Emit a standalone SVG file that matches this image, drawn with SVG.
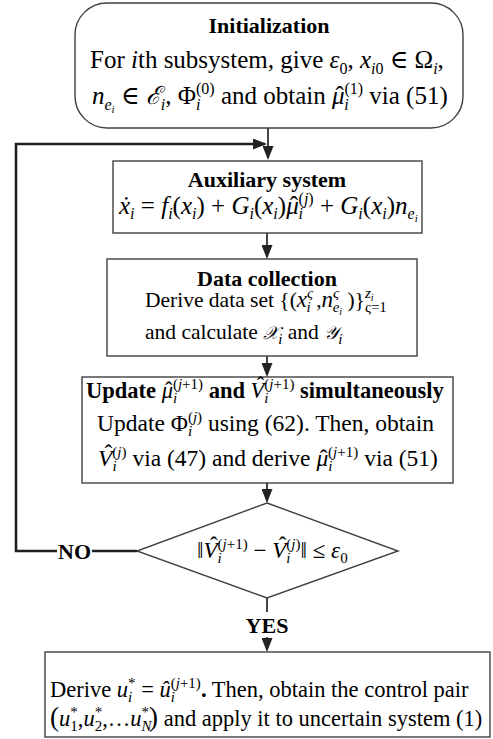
<svg xmlns="http://www.w3.org/2000/svg" width="493" height="739" viewBox="0 0 493 739">
<defs>
<style>
text{font-family:"Liberation Serif","Times New Roman","DejaVu Serif",serif;fill:#000}
.b{font-weight:bold}
.it{font-style:italic}
.box{fill:#fff;stroke:#404040;stroke-width:1.4}
.ln{fill:none;stroke:#303030;stroke-width:1.8}
.loop{fill:none;stroke:#202020;stroke-width:2.6}
</style>
<marker id="ah" markerWidth="14" markerHeight="11" refX="12" refY="5.5" orient="auto" markerUnits="userSpaceOnUse"><path d="M0,0 L14,5.5 L0,11 z" fill="#222"/></marker>
</defs>
<rect width="493" height="739" fill="#fff"/>
<g id="n-init">
<rect class="box" x="75" y="3" width="388" height="125" rx="32"/>
<text class="b" x="269" y="33" font-size="22" text-anchor="middle">Initialization</text>
<text x="90" y="68" font-size="25">For <tspan class="it">i</tspan>th subsystem, give <tspan class="it">ε</tspan><tspan font-size="16" dy="6">0</tspan><tspan dy="-6">, </tspan><tspan class="it">x</tspan><tspan class="it" font-size="16" dy="6">i</tspan><tspan font-size="16">0</tspan><tspan dy="-6"> ∈ Ω</tspan><tspan class="it" font-size="16" dy="6">i</tspan><tspan dy="-6">,</tspan></text>
<text x="92" y="104" font-size="25"><tspan class="it">n</tspan><tspan class="it" font-size="16" dy="6">e</tspan><tspan class="it" font-size="11" dy="3">i</tspan><tspan dy="-9"> ∈ </tspan><tspan class="it">ℰ</tspan><tspan class="it" font-size="16" dy="6">i</tspan><tspan dy="-6">, Φ</tspan><tspan class="it" font-size="16" dy="6">i</tspan><tspan font-size="16" dx="-4.4" dy="-16">(0)</tspan><tspan dy="10"> and obtain </tspan><tspan class="it">μ</tspan><tspan dx="-9">ˆ</tspan><tspan class="it" font-size="16" dx="0.5" dy="6">i</tspan><tspan font-size="16" dx="-4.4" dy="-16">(1)</tspan><tspan dy="10"> via (51)</tspan></text>
</g>
<g id="n-aux">
<rect class="box" x="113" y="161" width="309" height="72"/>
<text class="b" x="267" y="187" font-size="22" text-anchor="middle">Auxiliary system</text>
<text x="119" y="214" font-size="25"><tspan class="it">ẋ</tspan><tspan class="it" font-size="16" dy="5">i</tspan><tspan dy="-5"> = </tspan><tspan class="it">f</tspan><tspan class="it" font-size="16" dy="5">i</tspan><tspan dy="-5">(</tspan><tspan class="it">x</tspan><tspan class="it" font-size="16" dy="5">i</tspan><tspan dy="-5">) + </tspan><tspan class="it">G</tspan><tspan class="it" font-size="16" dy="5">i</tspan><tspan dy="-5">(</tspan><tspan class="it">x</tspan><tspan class="it" font-size="16" dy="5">i</tspan><tspan dy="-5">)</tspan><tspan class="it">μ</tspan><tspan dx="-9">ˆ</tspan><tspan class="it" font-size="16" dx="0.5" dy="5">i</tspan><tspan font-size="16" dx="-4.4" dy="-15">(<tspan class="it">j</tspan>)</tspan><tspan dy="10"> + </tspan><tspan class="it">G</tspan><tspan class="it" font-size="16" dy="5">i</tspan><tspan dy="-5">(</tspan><tspan class="it">x</tspan><tspan class="it" font-size="16" dy="5">i</tspan><tspan dy="-5">)</tspan><tspan class="it">n</tspan><tspan class="it" font-size="16" dy="5">e</tspan><tspan class="it" font-size="11" dy="3">i</tspan></text>
</g>
<g id="n-data">
<rect class="box" x="107" y="259" width="310" height="97"/>
<text class="b" x="267" y="286" font-size="22" text-anchor="middle">Data collection</text>
<text x="145" y="307" font-size="21.5">Derive data set {(<tspan class="it" font-size="23">x</tspan><tspan class="it" font-size="15" dy="-9">ς</tspan><tspan class="it" font-size="15" dx="-6.5" dy="14">i</tspan><tspan dy="-5"> ,</tspan><tspan class="it" font-size="23">n</tspan><tspan class="it" font-size="15" dy="-9">ς</tspan><tspan class="it" font-size="15" dx="-6.5" dy="14">e</tspan><tspan class="it" font-size="10" dy="3">i</tspan><tspan dy="-8"> )}</tspan><tspan class="it" font-size="15" dy="-9">z</tspan><tspan class="it" font-size="10" dy="3">i</tspan><tspan font-size="15" dx="-8.6" dy="11">ς=1</tspan></text>
<text x="145" y="339" font-size="21.5">and calculate <tspan class="it" font-size="18">𝒳</tspan><tspan class="it" font-size="15" dy="5">i</tspan><tspan dy="-5"> and </tspan><tspan class="it" font-size="18">𝒴</tspan><tspan class="it" font-size="15" dy="5">i</tspan></text>
</g>
<g id="n-update">
<rect class="box" x="82" y="377" width="371" height="106"/>
<text x="86" y="398" font-size="22.5"><tspan class="b">Update </tspan><tspan class="it">μ</tspan><tspan dx="-8">ˆ</tspan><tspan class="it" font-size="15" dx="0.5" dy="5">i</tspan><tspan font-size="15" dx="-4.2" dy="-14">(<tspan class="it">j</tspan>+1)</tspan><tspan class="b" dy="9"> and </tspan><tspan class="it">V</tspan><tspan dx="-7.5" dy="-5">ˆ</tspan><tspan class="it" font-size="15" dy="10">i</tspan><tspan font-size="15" dx="-4.2" dy="-14">(<tspan class="it">j</tspan>+1)</tspan><tspan class="b" dy="9"> simultaneously</tspan></text>
<text x="97" y="431" font-size="23.5">Update Φ<tspan class="it" font-size="15" dy="5">i</tspan><tspan font-size="15" dx="-4.2" dy="-14">(<tspan class="it">j</tspan>)</tspan><tspan dy="9"> using (62). Then, obtain</tspan></text>
<text x="98" y="466" font-size="23.5"><tspan class="it">V</tspan><tspan dx="-7.8" dy="-5">ˆ</tspan><tspan class="it" font-size="15" dy="10">i</tspan><tspan font-size="15" dx="-4.2" dy="-14">(<tspan class="it">j</tspan>)</tspan><tspan dy="9"> via (47) and derive </tspan><tspan class="it">μ</tspan><tspan dx="-8.4">ˆ</tspan><tspan class="it" font-size="15" dx="0.5" dy="5">i</tspan><tspan font-size="15" dx="-4.2" dy="-14">(<tspan class="it">j</tspan>+1)</tspan><tspan dy="9"> via (51)</tspan></text>
</g>
<g id="n-decision">
<polygon class="box" points="267,503 398,551 267,598 137,551"/>
<text x="197" y="558" font-size="23">‖<tspan class="it">V</tspan><tspan dx="-7.6" dy="-5">ˆ</tspan><tspan class="it" font-size="15" dy="10">i</tspan><tspan font-size="15" dx="-4.2" dy="-14">(<tspan class="it">j</tspan>+1)</tspan><tspan dy="9"> − </tspan><tspan class="it">V</tspan><tspan dx="-7.6" dy="-5">ˆ</tspan><tspan class="it" font-size="15" dy="10">i</tspan><tspan font-size="15" dx="-4.2" dy="-14">(<tspan class="it">j</tspan>)</tspan><tspan dy="9">‖ ≤ </tspan><tspan class="it">ε</tspan><tspan font-size="15" dy="5">0</tspan></text>
</g>
<g id="n-final">
<rect class="box" x="45" y="652" width="445" height="85"/>
<text x="50" y="697" font-size="22.5">Derive <tspan class="it">u</tspan><tspan class="it" font-size="15" dy="5">i</tspan><tspan font-size="15" dx="-4.2" dy="-14">*</tspan><tspan dy="9"> = </tspan><tspan class="it">û</tspan><tspan class="it" font-size="15" dy="5">i</tspan><tspan font-size="15" dx="-4.2" dy="-14">(<tspan class="it">j</tspan>+1)</tspan><tspan dy="9" class="b">.</tspan> Then, obtain the control pair</text>
<text x="50" y="726" font-size="22.5"><tspan font-size="27">(</tspan><tspan class="it">u</tspan><tspan font-size="15" dy="5">1</tspan><tspan font-size="15" dx="-7.5" dy="-14">*</tspan><tspan dy="9">,</tspan><tspan class="it">u</tspan><tspan font-size="15" dy="5">2</tspan><tspan font-size="15" dx="-7.5" dy="-14">*</tspan><tspan dy="9">,…</tspan><tspan class="it">u</tspan><tspan class="it" font-size="15" dy="5">N</tspan><tspan font-size="15" dx="-10" dy="-14">*</tspan><tspan dy="9" font-size="27">)</tspan> and apply it to uncertain system (1)</text>
</g>
<g id="connectors">
<line class="ln" x1="268" y1="128" x2="268" y2="158" marker-end="url(#ah)"/>
<polyline class="loop" points="137,551 92,551"/>
<polyline class="loop" points="57,551 16,551 16,144 265,144" marker-end="url(#ah)"/>
<text class="b" x="58" y="559" font-size="22">NO</text>
<line class="ln" x1="267" y1="233" x2="267" y2="257" marker-end="url(#ah)"/>
<line class="ln" x1="267" y1="356" x2="267" y2="375" marker-end="url(#ah)"/>
<line class="ln" x1="267" y1="483" x2="267" y2="501" marker-end="url(#ah)"/>
<line class="ln" x1="267" y1="598" x2="267" y2="612"/>
<text class="b" x="267" y="633" font-size="22" text-anchor="middle">YES</text>
<line class="ln" x1="267" y1="637" x2="267" y2="650" marker-end="url(#ah)"/>
</g>
</svg>
